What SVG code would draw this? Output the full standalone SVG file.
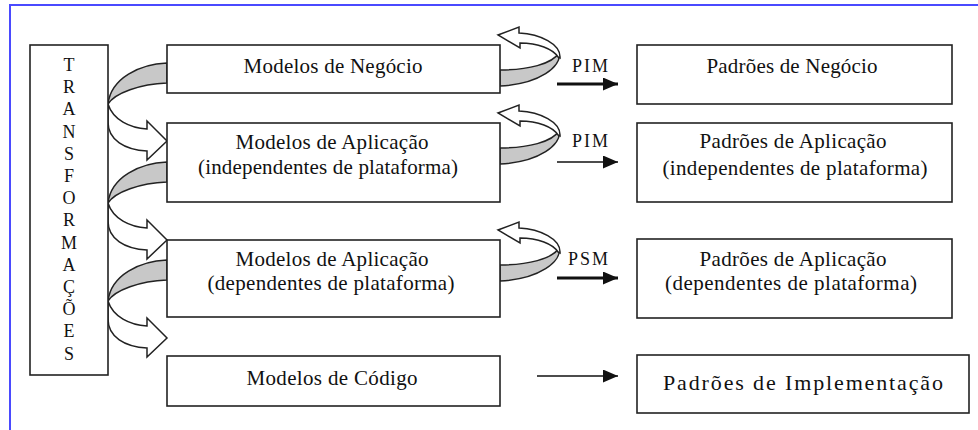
<svg xmlns="http://www.w3.org/2000/svg" xmlns:xlink="http://www.w3.org/1999/xlink" width="978" height="430" viewBox="0 0 978 430">
<style>
text{font-family:'Liberation Serif','DejaVu Serif',serif;fill:#111}
.box{fill:#fff;stroke:#222;stroke-width:1.6}
.t{font-size:21px;text-anchor:middle}
.lt{font-size:18px;text-anchor:middle}
.lab{font-size:18px}
.band{fill:#c8c8c8;stroke:#222;stroke-width:1.5;stroke-linejoin:round}
.outl{fill:#fff;stroke:#222;stroke-width:1.5;stroke-linejoin:miter}
.thick{stroke:#111;stroke-width:3.2;fill:none}
.thin{stroke:#111;stroke-width:1.5;fill:none}
</style>
<defs>
<marker id="ah" markerWidth="15" markerHeight="13" refX="15" refY="6.5" orient="auto" markerUnits="userSpaceOnUse">
<path d="M0,0 L15,6.5 L0,13 Z" fill="#111"/>
</marker>
<g id="curveL">
<path class="band" d="M167,63 C140,64 111,78 108,104 C115,93 140,84 167,83 Z"/>
<path class="outl" d="M108,104 C113,120 130,128 147,129 L147,121 L167,141 L147,160 L147,151 C125,150 108,140 108,122 Z"/>
</g>
<g id="loopR">
<path class="band" d="M500,70 C528,70 552,64 559,53 C562,66 540,84 500,86 Z"/>
<path class="outl" d="M560,58 C561,44 540,34 519,33 L519,27 L498,35 L520,48 L520,43 C538,43 553,49 558,57 Z"/>
</g>
</defs>
<rect width="978" height="430" fill="#fff"/>
<path d="M10,430 L10,5 L978,5" fill="none" stroke="#4a4aff" stroke-width="2"/>

<g id="connectors">
<use xlink:href="#curveL"/>
<use xlink:href="#curveL" transform="translate(0,99)"/>
<use xlink:href="#curveL" transform="translate(0,197)"/>
<use xlink:href="#loopR"/>
<use xlink:href="#loopR" transform="translate(0,78)"/>
<use xlink:href="#loopR" transform="translate(0,195)"/>
<line class="thick" x1="557" y1="84" x2="618" y2="84" marker-end="url(#ah)"/>
<line class="thin" x1="557" y1="162" x2="618" y2="162" marker-end="url(#ah)"/>
<line class="thick" x1="557" y1="278" x2="618" y2="278" marker-end="url(#ah)"/>
<line class="thin" x1="537" y1="376" x2="618" y2="376" marker-end="url(#ah)"/>
<text class="lab" x="572" y="72" textLength="36">PIM</text>
<text class="lab" x="572" y="147" textLength="36">PIM</text>
<text class="lab" x="568" y="265" textLength="40">PSM</text>
</g>

<g id="transformacoes">
<rect class="box" x="30" y="45" width="78" height="330"/>
<text class="lt" x="69" y="71">T</text>
<text class="lt" x="69" y="93.2">R</text>
<text class="lt" x="69" y="115.4">A</text>
<text class="lt" x="69" y="137.6">N</text>
<text class="lt" x="69" y="159.8">S</text>
<text class="lt" x="69" y="182">F</text>
<text class="lt" x="69" y="204.2">O</text>
<text class="lt" x="69" y="226.4">R</text>
<text class="lt" x="69" y="248.6">M</text>
<text class="lt" x="69" y="270.8">A</text>
<text class="lt" x="69" y="293">Ç</text>
<text class="lt" x="69" y="315.2">Õ</text>
<text class="lt" x="69" y="337.4">E</text>
<text class="lt" x="69" y="359.6">S</text>
</g>

<g id="modelos-negocio">
<rect class="box" x="167" y="45" width="333" height="48"/>
<text class="t" x="333" y="73" textLength="179">Modelos de Negócio</text>
</g>
<g id="modelos-aplicacao-pim">
<rect class="box" x="167" y="123" width="333" height="79"/>
<text class="t" x="332" y="149" textLength="193">Modelos de Aplicação</text>
<text class="t" x="328" y="174" textLength="260">(independentes de plataforma)</text>
</g>
<g id="modelos-aplicacao-psm">
<rect class="box" x="167" y="240" width="333" height="77"/>
<text class="t" x="332" y="266" textLength="193">Modelos de Aplicação</text>
<text class="t" x="331" y="290" textLength="247">(dependentes de plataforma)</text>
</g>
<g id="modelos-codigo">
<rect class="box" x="167" y="356" width="333" height="50"/>
<text class="t" x="332" y="385" textLength="171">Modelos de Código</text>
</g>

<g id="padroes-negocio">
<rect class="box" x="637" y="45" width="315" height="59"/>
<text class="t" x="792" y="73" textLength="171">Padrões de Negócio</text>
</g>
<g id="padroes-aplicacao-pim">
<rect class="box" x="637" y="123" width="315" height="79"/>
<text class="t" x="793" y="148" textLength="187">Padrões de Aplicação</text>
<text class="t" x="795" y="175" textLength="265">(independentes de plataforma)</text>
</g>
<g id="padroes-aplicacao-psm">
<rect class="box" x="637" y="239" width="315" height="79"/>
<text class="t" x="793" y="266" textLength="187">Padrões de Aplicação</text>
<text class="t" x="791" y="290" textLength="252">(dependentes de plataforma)</text>
</g>
<g id="padroes-implementacao">
<rect class="box" x="637" y="355" width="332" height="58"/>
<text class="t" x="803" y="390" style="font-size:22px" textLength="280">Padrões de Implementação</text>
</g>
</svg>
